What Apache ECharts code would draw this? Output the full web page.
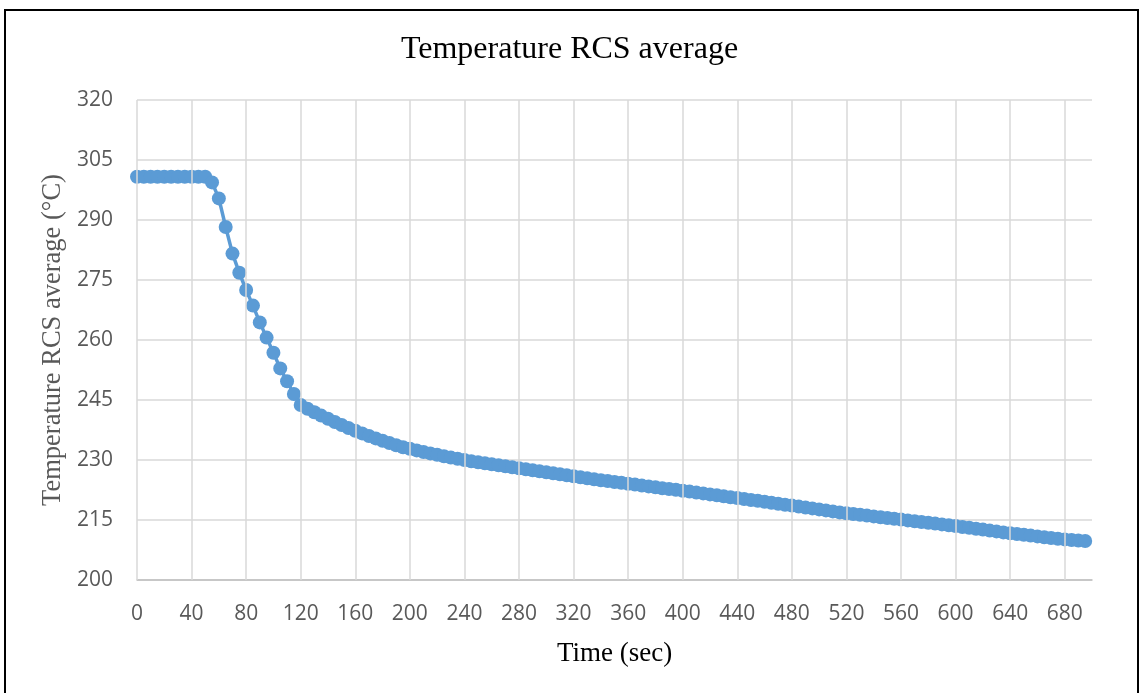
<!DOCTYPE html>
<html>
<head>
<meta charset="utf-8">
<script src="https://cdn.jsdelivr.net/npm/echarts@6/dist/echarts.min.js"></script>
<style>
html,body{margin:0;padding:0;background:#fff;}
#chart{width:1139px;height:693px;}
</style>
</head>
<body>
<div id="chart"></div>
<script>
// Time (sec)
var times = [
  0,5,10,15,20,25,30,35,40,45,50,
  55,60,65,70,75,80,85,90,95,100,105,110,115,
  120,125,130,135,140,145,150,155,160,165,170,175,180,185,190,195,
  200,205,210,215,220,225,230,235,240,245,250,255,260,265,270,275,
  280,285,290,295,300,305,310,315,320,325,330,335,340,345,350,355,
  360,365,370,375,380,385,390,395,400,405,410,415,420,425,430,435,
  440,445,450,455,460,465,470,475,480,485,490,495,500,505,510,515,
  520,525,530,535,540,545,550,555,560,565,570,575,580,585,590,595,
  600,605,610,615,620,625,630,635,640,645,650,655,660,665,670,675,
  680,685,690,695,700
];
// Temperature RCS average (°C)
var temps = [
  300.8,300.8,300.8,300.8,300.8,300.8,300.8,300.8,300.8,300.8,300.8,
  299.4,295.4,288.25,281.6,276.8,272.5,268.6,264.4,260.6,256.8,252.9,249.7,246.5,
  243.75,242.8,241.95,241.1,240.3,239.5,238.75,238.0,237.3,236.65,236.0,235.4,234.8,234.25,233.7,233.2,
  232.8,232.4,232.0,231.65,231.3,230.95,230.6,230.3,230.0,229.7,229.45,229.2,228.95,228.7,228.45,228.2,
  227.95,227.7,227.45,227.2,226.95,226.7,226.45,226.2,225.95,225.7,225.45,225.2,224.95,224.75,224.5,224.3,
  224.05,223.85,223.6,223.4,223.2,222.95,222.75,222.55,222.3,222.1,221.85,221.65,221.4,221.2,220.95,220.7,
  220.5,220.25,220.0,219.8,219.55,219.3,219.05,218.8,218.6,218.35,218.1,217.9,217.65,217.4,217.15,216.9,
  216.7,216.5,216.3,216.1,215.9,215.7,215.5,215.3,215.1,214.9,214.7,214.5,214.3,214.1,213.9,213.7,
  213.5,213.25,213.05,212.8,212.6,212.35,212.15,211.9,211.7,211.5,211.3,211.1,210.9,210.7,210.5,210.3,
  210.15,210.0,209.85,209.75
];
// Tick labels
var xTicks = [0,40,80,120,160,200,240,280,320,360,400,440,480,520,560,600,640,680];
var yTicks = [200,215,230,245,260,275,290,305,320];

var chartTitle = 'Temperature RCS average';
var xTitle = 'Time (sec)';
var yTitle = 'Temperature RCS average (\u00B0C)';

var points = times.map(function (t, i) { return [t, temps[i]]; });

var chart = echarts.init(document.getElementById('chart'), null, {renderer: 'canvas'});
var labelFont = '"Open Sans", "Liberation Sans", sans-serif';
var serif = '"Liberation Serif", "DejaVu Serif", serif';
var gridColor = '#d9d9d9';
chart.setOption({
  animation: false,
  backgroundColor: '#ffffff',
  graphic: [{
    type: 'rect',
    shape: {x: 5, y: 10, width: 1133, height: 700},
    style: {fill: 'none', stroke: '#000000', lineWidth: 2},
    silent: true,
    z: 100
  }],
  title: {
    text: chartTitle,
    left: 'center',
    top: 29,
    textStyle: {fontFamily: serif, fontSize: 32, fontWeight: 'normal', color: '#000000'}
  },
  grid: {left: 137, right: 47, top: 100, bottom: 113, containLabel: false},
  xAxis: {
    type: 'value',
    min: 0,
    max: 700,
    interval: 40,
    name: xTitle,
    nameLocation: 'middle',
    nameGap: 60,
    nameTextStyle: {fontFamily: serif, fontSize: 27, color: '#000000'},
    axisLine: {show: true, lineStyle: {color: '#bfbfbf', width: 1.5}},
    axisTick: {show: false, customValues: xTicks},
    axisLabel: {
      customValues: xTicks,
      margin: 24,
      fontFamily: labelFont,
      fontSize: 21,
      color: '#595959'
    },
    splitLine: {show: false}
  },
  yAxis: {
    type: 'value',
    min: 200,
    max: 320,
    interval: 15,
    name: yTitle,
    nameLocation: 'middle',
    nameGap: 63,
    nameTextStyle: {fontFamily: serif, fontSize: 26.5, color: '#595959'},
    axisLine: {show: false},
    axisTick: {show: false},
    axisLabel: {
      margin: 24,
      fontFamily: labelFont,
      fontSize: 21,
      color: '#595959'
    },
    splitLine: {show: true, lineStyle: {color: gridColor, width: 1.5}}
  },
  series: [{
    type: 'line',
    data: [],
    silent: true,
    z: 1,
    markLine: {
      silent: true,
      symbol: 'none',
      animation: false,
      label: {show: false},
      lineStyle: {color: gridColor, width: 1.5, type: 'solid'},
      emphasis: {disabled: true},
      data: xTicks.map(function (v) { return {xAxis: v}; })
    }
  }, {
    type: 'line',
    data: points,
    z: 3,
    symbol: 'circle',
    symbolSize: 14,
    showAllSymbol: true,
    clip: false,
    lineStyle: {color: '#5b9bd5', width: 3.5},
    itemStyle: {color: '#5b9bd5', borderWidth: 0}
  }]
});
</script>
</body>
</html>
